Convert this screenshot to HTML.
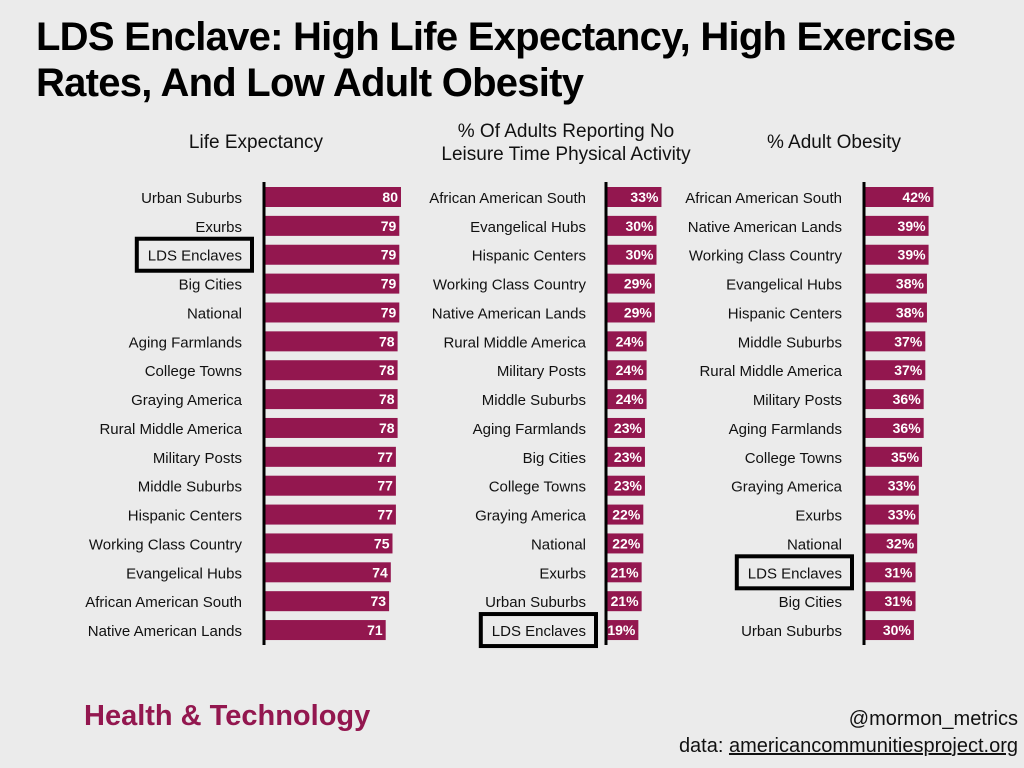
<!DOCTYPE html>
<html><head><meta charset="utf-8"><style>
body{margin:0;width:1024px;height:768px;background:#ebebeb;font-family:"Liberation Sans",sans-serif;overflow:hidden;position:relative}
.t{position:absolute;left:36px;top:14px;font-size:40px;font-weight:bold;line-height:46px;color:#000;letter-spacing:-0.75px}
.h{position:absolute;text-align:center;font-size:19px;color:#111;line-height:23px}
svg{position:absolute;left:0;top:0}
.ft{position:absolute;font-size:29px;font-weight:bold;color:#93174f;left:84px;top:700px}
.cr{position:absolute;right:6px;font-size:20px;color:#111;text-align:right}
</style></head><body>
<div class="t">LDS Enclave: High Life Expectancy, High Exercise<br>Rates, And Low Adult Obesity</div>
<div class="h" style="left:156px;width:200px;top:131px">Life Expectancy</div>
<div class="h" style="left:416px;width:300px;top:120px">% Of Adults Reporting No<br>Leisure Time Physical Activity</div>
<div class="h" style="left:734px;width:200px;top:131px">% Adult Obesity</div>
<svg id="c" width="1024" height="768"></svg>
<div class="ft">Health &amp; Technology</div>
<div class="cr" style="top:708px">@mormon_metrics</div>
<div class="cr" style="top:735px">data: <u>americancommunitiesproject.org</u></div>
<script>
const lifeCats=["Urban Suburbs","Exurbs","LDS Enclaves","Big Cities","National","Aging Farmlands","College Towns","Graying America","Rural Middle America","Military Posts","Middle Suburbs","Hispanic Centers","Working Class Country","Evangelical Hubs","African American South","Native American Lands"];
const lifeVals=[80,79,79,79,79,78,78,78,78,77,77,77,75,74,73,71];
const actCats=["African American South","Evangelical Hubs","Hispanic Centers","Working Class Country","Native American Lands","Rural Middle America","Military Posts","Middle Suburbs","Aging Farmlands","Big Cities","College Towns","Graying America","National","Exurbs","Urban Suburbs","LDS Enclaves"];
const actVals=[33,30,30,29,29,24,24,24,23,23,23,22,22,21,21,19];
const obCats=["African American South","Native American Lands","Working Class Country","Evangelical Hubs","Hispanic Centers","Middle Suburbs","Rural Middle America","Military Posts","Aging Farmlands","College Towns","Graying America","Exurbs","National","LDS Enclaves","Big Cities","Urban Suburbs"];
const obVals=[42,39,39,38,38,37,37,36,36,35,33,33,32,31,31,30];
const NS="http://www.w3.org/2000/svg";
const svg=document.getElementById('c');
function mk(t,a){const e=document.createElementNS(NS,t);for(const k in a)e.setAttribute(k,a[k]);svg.appendChild(e);return e;}
const y0=197,step=28.87;
function yPos(i){return y0+i*step;}
function panel(cats,vals,axisX,labelX,scale,suffix,name){
  const xw=v=>v*scale;
  cats.forEach((c,i)=>{
    const y=yPos(i);
    const r=mk('rect',{x:axisX,y:y-10,width:xw(vals[i]),height:20,fill:'#93174f'});
    
    
    const t=mk('text',{x:labelX,y:y+6,'text-anchor':'end','font-size':15,fill:'#111','font-family':'Liberation Sans, sans-serif'});
    t.textContent=c;
    
    
    const v=mk('text',{x:axisX+xw(vals[i])-3,y:y+5,'text-anchor':'end','font-size':14,'font-weight':'bold',fill:'#fff','font-family':'Liberation Sans, sans-serif'});
    v.textContent=vals[i]+suffix;
    
    
    if(c==="LDS Enclaves"){
      const w=c.length*7.6+24;
      const b=mk('rect',{x:labelX-w+10,y:y-16,width:w,height:32,fill:'none',stroke:'#000','stroke-width':4});
      
      
    }
  });
  const a=mk('line',{x1:axisX-1,x2:axisX-1,y1:182,y2:645,stroke:'#000','stroke-width':3});
  
  
}
panel(lifeCats,lifeVals,265,242,1.7,'','life');
panel(actCats,actVals,607,586,1.65,'%','activity');
panel(obCats,obVals,865,842,1.63,'%','obesity');
</script>
</body></html>
